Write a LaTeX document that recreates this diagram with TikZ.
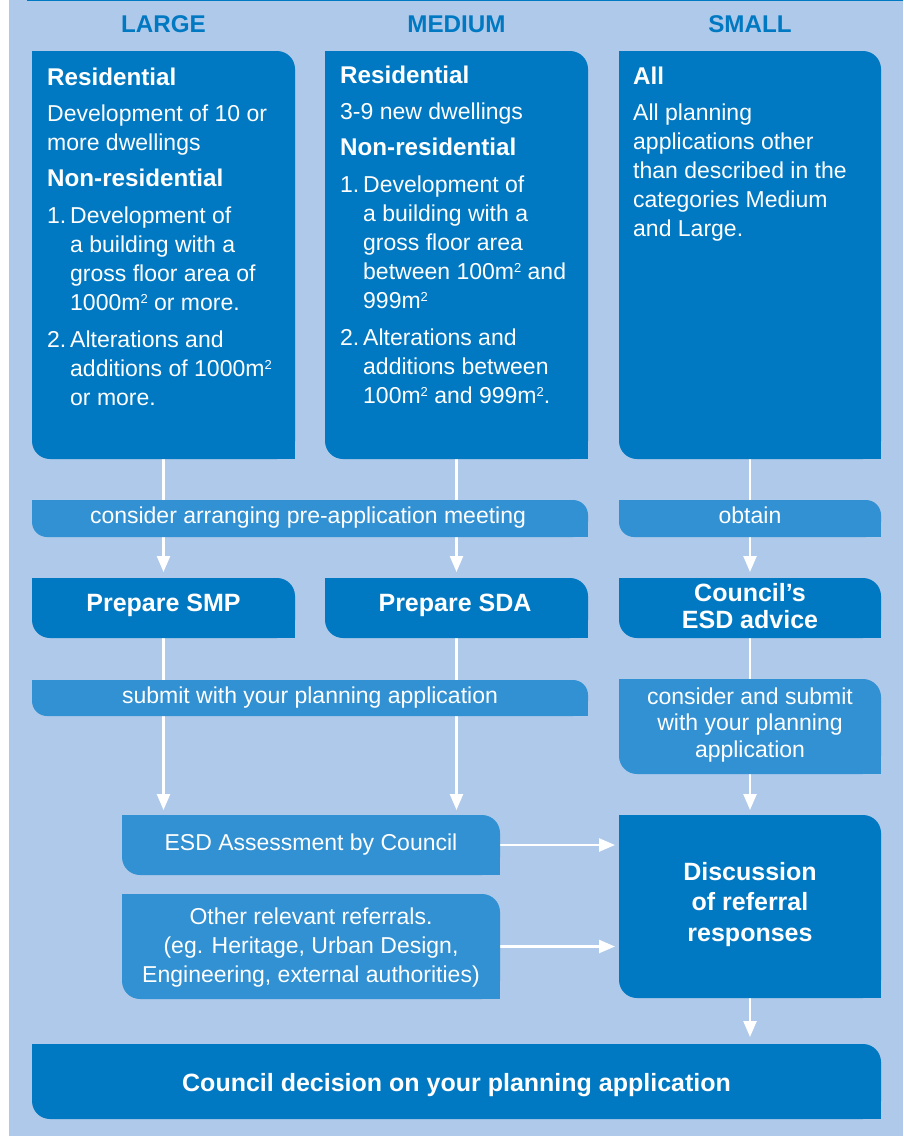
\documentclass[tikz,border=0pt]{standalone}
\usepackage{fontspec}
\setmainfont{Liberation Sans}
\usetikzlibrary{arrows.meta,fit}
\definecolor{bgblue}{HTML}{AFC9EA}
\definecolor{darkblue}{HTML}{0079C2}
\definecolor{bandblue}{HTML}{3191D2}
\pgfdeclarelayer{bglayer}
\pgfdeclarelayer{connlayer}
\pgfsetlayers{bglayer,connlayer,main}
\newcommand\bodysize{\fontsize{23}{28.9}\selectfont}
\newcommand\boxhead[1]{{\fontsize{24.2}{28.9}\selectfont\bfseries #1}}
\newcommand\flowbold{\fontsize{25}{26.6}\selectfont\bfseries}
\newcommand\msq{\raisebox{7pt}{\fontsize{13}{13}\selectfont 2}}
\newcommand\ind{\hspace*{23pt}}
\newcommand\itemno[1]{\makebox[23pt][l]{#1}}
% name, colour, x1, y1, x2, y2, corner radius
\newcommand\flowtab[7]{%
  \fill[#2, rounded corners=#7pt] (#3,#4) rectangle (#5,#6);
  \fill[#2] (#3,#4) rectangle ++(#7pt,-#7pt);
  \fill[#2] (#5,#6) rectangle ++(-#7pt,#7pt);
  \node[fit={(#3,#4) (#5,#6)}, inner sep=0pt, outer sep=0pt] (#1) {};}
\begin{document}
\begin{tikzpicture}[x=1pt,y=-1pt,
  conn/.style={draw=white, line width=2.4pt, -{Triangle[length=16pt,width=13pt]}},
  headtext/.style={anchor=base, inner sep=0pt, text=darkblue, font=\fontsize{24.2}{28}\selectfont\bfseries},
  boxtext/.style={anchor=base west, inner sep=0pt, text=white, font=\bodysize},
  ctext/.style={anchor=base, inner sep=0pt, text=white, font=\bodysize},
  cbold/.style={anchor=base, inner sep=0pt, text=white, font=\flowbold}]
\useasboundingbox (0,0) rectangle (903,1136);
\begin{pgfonlayer}{bglayer}
  \fill[white] (0,0) rectangle (903,1136);
  \fill[bgblue] (9,0) rectangle (903,1136);
  \fill[darkblue] (27,0) rectangle (903,1.3);
\end{pgfonlayer}

% headers
\node[headtext] (hlarge) at (163.5,32.6) {LARGE};
\node[headtext] (hmedium) at (456.5,32.6) {MEDIUM};
\node[headtext] (hsmall) at (750,32.6) {SMALL};

% boxes
\flowtab{large}{darkblue}{32}{51}{295}{459}{18}
\flowtab{medium}{darkblue}{325}{51}{588}{459}{18}
\flowtab{small}{darkblue}{619}{51}{881}{459}{18}
\flowtab{bandone}{bandblue}{32}{500}{588}{537}{15}
\flowtab{obtain}{bandblue}{619}{500}{881}{537}{15}
\flowtab{prepsmp}{darkblue}{32}{578}{295}{638}{18}
\flowtab{prepsda}{darkblue}{325}{578}{588}{638}{18}
\flowtab{advice}{darkblue}{619}{578}{881}{638}{18}
\flowtab{bandtwo}{bandblue}{32}{680}{588}{716}{15}
\flowtab{submit}{bandblue}{619}{679}{881}{774}{18}
\flowtab{esd}{bandblue}{122}{815}{500}{875}{18}
\flowtab{other}{bandblue}{122}{894}{500}{999}{18}
\flowtab{disc}{darkblue}{619}{815}{881}{998}{18}
\flowtab{decision}{darkblue}{32}{1044}{881}{1119}{18}

% texts
\node[boxtext] (largetext) at (47,85) {\parbox[t]{250pt}{\raggedright
\boxhead{Residential}\par\vspace{8pt}
Development of 10 or\\more dwellings\par\vspace{7pt}
\boxhead{Non-residential}\par\vspace{8pt}
\itemno{1.}Development of\\\ind a building with a\\\ind gross floor area of\\\ind 1000m\msq{} or more.\par\vspace{8pt}
\itemno{2.}Alterations and\\\ind additions of 1000m\msq\\\ind or more.}};

\node[boxtext] (mediumtext) at (340,83) {\parbox[t]{250pt}{\raggedright
\boxhead{Residential}\par\vspace{8pt}
3-9 new dwellings\par\vspace{7pt}
\boxhead{Non-residential}\par\vspace{8pt}
\itemno{1.}Development of\\\ind a building with a\\\ind gross floor area\\\ind between 100m\msq{} and\\\ind 999m\msq\par\vspace{8pt}
\itemno{2.}Alterations and\\\ind additions between\\\ind 100m\msq{} and 999m\msq.}};

\node[boxtext] (smalltext) at (633,84) {\parbox[t]{245pt}{\raggedright
\boxhead{All}\par\vspace{8pt}
All planning\\applications other\\than described in the\\categories Medium\\and Large.}};

\node[ctext] (bandonetext) at (308,523) {consider arranging pre-application meeting};
\node[ctext] (obtaintext) at (750,523) {obtain};
\node[cbold] (smptext) at (163.5,611) {Prepare SMP};
\node[cbold] (sdatext) at (455,611) {Prepare SDA};
\node[cbold] (advicetext) at (750,601.7) {\parbox[t]{250pt}{\centering Council’s\\ESD advice}};
\node[ctext] (bandtwotext) at (310,703) {submit with your planning application};
\node[ctext, font=\fontsize{23}{26.6}\selectfont] (submittext) at (750,704) {\parbox[t]{255pt}{\centering consider and submit\\with your planning\\application}};
\node[ctext] (esdtext) at (311,850) {ESD Assessment by Council};
\node[ctext, font=\fontsize{23}{29.2}\selectfont] (othertext) at (311,924.3) {\parbox[t]{370pt}{\centering Other relevant referrals.\\(eg. Heritage, Urban Design,\\Engineering, external authorities)}};
\node[cbold, font=\fontsize{25}{30.5}\selectfont\bfseries] (disctext) at (750,880) {\parbox[t]{250pt}{\centering Discussion\\of referral\\responses}};
\node[cbold] (decisiontext) at (456.5,1091.7) {Council decision on your planning application};

% connectors
\begin{pgfonlayer}{connlayer}
  \draw[conn, shorten >=6pt] (large.south) -- (prepsmp.north);
  \draw[conn, shorten >=6pt] (medium.south) -- (prepsda.north);
  \draw[conn, shorten >=6pt] (small.south) -- (advice.north);
  \draw[conn, shorten >=5pt] (prepsmp.south) -- (prepsmp.south |- esd.north);
  \draw[conn, shorten >=5pt] (prepsda.south) -- (prepsda.south |- esd.north);
  \draw[conn, shorten >=5pt] (advice.south) -- (disc.north);
  \draw[conn, shorten >=4pt] (esd.east) -- (esd.east -| disc.west);
  \draw[conn, shorten >=4pt] (other.east) -- (other.east -| disc.west);
  \draw[conn, shorten >=7pt] (disc.south) -- (disc.south |- decision.north);
\end{pgfonlayer}
\end{tikzpicture}
\end{document}
